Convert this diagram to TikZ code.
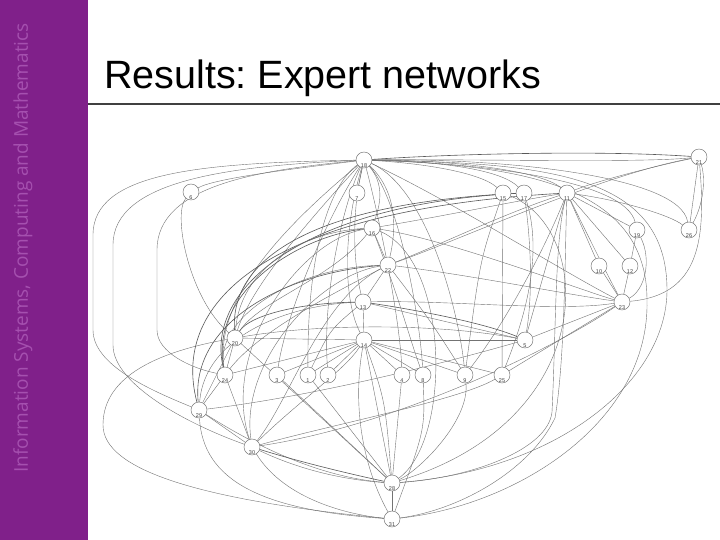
\documentclass[tikz,border=0pt]{standalone}
\usepackage{fontspec}
\setmainfont{Liberation Sans}
\newfontfamily\sidefont{Open Sans}
\frenchspacing
\pgfdeclarelayer{bg}
\pgfsetlayers{bg,main}
\definecolor{sidebar}{RGB}{128,32,138}
\definecolor{sidetext}{RGB}{165,80,175}
\definecolor{edgec}{RGB}{115,115,115}
\definecolor{nodec}{RGB}{105,105,105}
\tikzset{
  nd/.style={circle, draw=nodec, fill=white, minimum size=16pt, inner sep=0pt, line width=0.45pt},
  lbl/.style={anchor=south, inner sep=0.9pt, font=\fontsize{5.5}{5.5}\selectfont, text=black!75},
  e/.style={draw=edgec, line width=0.4pt},
  e2/.style={draw=black!65, line width=0.6pt},
}
\newcommand{\gnode}[3]{\node[nd, label={[lbl]south:#3}] (#1) at #2 {};}
\begin{document}
\begin{tikzpicture}[x=1pt,y=-1pt]
\useasboundingbox (0,0) rectangle (720,540);
% sidebar
\fill[sidebar] (0,0) rectangle (88,540);
\node[rotate=90, text=sidetext, font=\sidefont\fontsize{19}{20}\selectfont, inner sep=0pt] (side) at (23,248) {Information Systems, Computing and Mathematics};
% title
\node[anchor=base west, inner sep=0pt, font=\fontsize{39.5}{40}\selectfont] (title) at (104,89) {Results: Expert networks};
\coordinate (r1) at (88,104);
\coordinate (r2) at (720,104);
\draw[black!75, line width=1.2pt] (r1) -- (r2);
% nodes
\gnode{A}{(364,160)}{18}
\gnode{B}{(191,192)}{6}
\gnode{C}{(357,193)}{7}
\gnode{D}{(503,193)}{15}
\gnode{E}{(524,193)}{17}
\gnode{F}{(567,193)}{11}
\gnode{G}{(699,157)}{21}
\gnode{H}{(637,230)}{19}
\gnode{I}{(689,230)}{26}
\gnode{J}{(599,266)}{10}
\gnode{K}{(630,266)}{12}
\gnode{L}{(622,302)}{23}
\gnode{M}{(372,228)}{16}
\gnode{N}{(388,265)}{22}
\gnode{O}{(363,302)}{13}
\gnode{P}{(364,340)}{14}
\gnode{Q}{(235,338)}{20}
\gnode{X5}{(525,340)}{5}
\gnode{R1}{(225,375)}{24}
\gnode{R2}{(277,375)}{3}
\gnode{R3}{(308,375)}{1}
\gnode{R4}{(328,375)}{2}
\gnode{R5}{(402,375)}{4}
\gnode{R6}{(423,375)}{8}
\gnode{R7}{(465,375)}{9}
\gnode{R8}{(502,375)}{25}
\gnode{S}{(199,410)}{29}
\gnode{T}{(252,447)}{30}
\gnode{U}{(392,483)}{28}
\gnode{V}{(392,519)}{31}
\begin{pgfonlayer}{bg}
\fill[white] (0,0) rectangle (720,540);
% outer left curves
\draw[e] (A) .. controls (200,163) and (93,172) .. (93,235) -- (93,330) .. controls (93,365) and (150,390) .. (S);
\draw[e] (A) .. controls (230,166) and (113,180) .. (113,245) -- (113,345) .. controls (113,385) and (190,425) .. (T);
\draw[e] (A) .. controls (260,170) and (157,185) .. (157,250) -- (157,330) .. controls (157,352) and (190,368) .. (R1);
\draw[e] (B) .. controls (215,178) and (300,168) .. (A);
\draw[e] (B) .. controls (172,215) and (190,300) .. (Q);
\draw[e] (Q) .. controls (140,355) and (103,385) .. (103,425) .. controls (103,470) and (200,500) .. (V);
% bottom left
\draw[e] (S) .. controls (203,480) and (260,510) .. (V);
\draw[e] (S) .. controls (270,455) and (330,478) .. (U);
\draw[e2] (T) .. controls (300,462) and (350,474) .. (U);
\draw[e] (T) .. controls (300,470) and (345,480) .. (U);
\draw[e] (T) .. controls (285,500) and (350,515) .. (V);
\draw[e] (S) -- (T);
\draw[e] (R1) -- (S);
\draw[e] (R1) -- (T);
\draw[e] (Q) -- (S);
\draw[e] (Q) -- (R1);
\draw[e] (Q) -- (U);
\draw[e] (R2) -- (U);
\draw[e] (S) .. controls (300,398) and (420,370) .. (X5);
\draw[e] (T) .. controls (400,425) and (560,345) .. (L);
\draw[e] (T) .. controls (300,400) and (345,370) .. (P);
\draw[e] (R8) .. controls (460,400) and (330,425) .. (T);
\draw[e] (U) -- (V);
% P
\draw[e] (O) -- (P);
\draw[e] (P) -- (U);
\draw[e] (P) .. controls (385,400) .. (U);
\draw[e] (P) .. controls (350,420) and (370,480) .. (V);
\draw[e] (P) -- (R2);
\draw[e] (P) -- (R3);
\draw[e] (P) -- (R4);
\draw[e] (P) -- (R5);
\draw[e] (P) -- (R6);
\draw[e] (P) -- (R7);
\draw[e] (P) -- (R8);
\draw[e] (P) -- (X5);
\draw[e] (Q) -- (P);
\draw[e] (R1) -- (P);
\draw[e] (Q) .. controls (330,322) and (450,325) .. (X5);
% A fan
\draw[e] (A) -- (C);
\draw[e] (A) .. controls (385,185) and (380,205) .. (M);
\draw[e] (A) .. controls (400,195) and (395,235) .. (N);
\draw[e] (A) .. controls (350,220) and (355,270) .. (O);
\draw[e] (A) .. controls (343,230) and (343,300) .. (P);
\draw[e] (A) .. controls (300,230) and (250,290) .. (Q);
\draw[e] (A) .. controls (320,230) and (285,320) .. (R2);
\draw[e] (A) .. controls (330,185) and (307,250) .. (R3);
\draw[e] (A) .. controls (345,200) and (322,290) .. (R4);
\draw[e] (A) .. controls (380,220) and (400,320) .. (R5);
\draw[e] (A) .. controls (400,200) and (420,320) .. (R6);
\draw[e] (A) .. controls (430,190) and (460,320) .. (R7);
\draw[e] (A) .. controls (280,230) and (215,300) .. (R1);
\draw[e] (A) .. controls (420,163) and (480,172) .. (D);
\draw[e] (A) .. controls (430,161) and (500,168) .. (E);
\draw[e] (A) .. controls (450,160) and (540,170) .. (F);
\draw[e2] (A) .. controls (450,154) and (600,150) .. (G);
\draw[e] (A) .. controls (480,159) and (640,163) .. (G);
\draw[e] (A) .. controls (500,158) and (680,175) .. (I);
\draw[e] (A) .. controls (480,163) and (625,180) .. (H);
\draw[e] (A) .. controls (450,200) and (560,270) .. (L);
\draw[e] (A) .. controls (550,163) and (667,175) .. (667,290) .. controls (667,380) and (560,470) .. (U);
\draw[e] (A) .. controls (520,165) and (647,185) .. (647,300) .. controls (650,420) and (520,505) .. (V);
% F fan
\draw[e] (F) .. controls (600,180) and (660,165) .. (G);
\draw[e] (F) -- (H);
\draw[e] (F) .. controls (620,200) and (670,215) .. (I);
\draw[e] (F) -- (J);
\draw[e] (F) -- (K);
\draw[e] (F) .. controls (590,240) and (610,280) .. (L);
\draw[e] (F) -- (X5);
\draw[e] (F) .. controls (555,240) and (556,330) .. (552,412) .. controls (548,450) and (470,478) .. (U);
\draw[e] (F) .. controls (565,250) and (565,360) .. (555,418) .. controls (530,470) and (460,510) .. (V);
\draw[e] (F) .. controls (500,215) and (440,245) .. (N);
\draw[e] (F) .. controls (540,260) and (500,330) .. (R7);
% G, H, J, K, L
\draw[e] (G) -- (I);
\draw[e] (G) .. controls (706,180) and (703,205) .. (I);
\draw[e] (G) .. controls (706,240) and (700,295) .. (L);
\draw[e] (G) .. controls (600,175) and (460,240) .. (N);
\draw[e] (H) -- (K);
\draw[e] (H) .. controls (652,260) and (645,290) .. (L);
\draw[e] (J) -- (L);
\draw[e] (K) -- (L);
\draw[e] (M) .. controls (450,240) and (580,290) .. (L);
\draw[e] (N) .. controls (470,275) and (570,295) .. (L);
\draw[e] (O) .. controls (450,300) and (560,312) .. (L);
\draw[e] (X5) -- (L);
\draw[e] (R8) -- (L);
\draw[e] (D) .. controls (595,230) and (600,420) .. (U);
% D, E down
\draw[e] (D) -- (R8);
\draw[e] (E) .. controls (532,250) and (532,300) .. (X5);
\draw[e] (D) .. controls (480,260) .. (R7);
\draw[e] (E) .. controls (545,260) and (520,330) .. (R8);
% sweeping from lower left
\draw[e2] (R1) .. controls (205,290) and (300,205) .. (E);
\draw[e2] (Q) .. controls (230,255) and (320,203) .. (E);
\draw[e2] (S) .. controls (170,300) and (270,210) .. (F);
\draw[e] (Q) .. controls (240,270) and (300,232) .. (M);
\draw[e2] (R1) .. controls (210,290) and (300,236) .. (M);
\draw[e] (R1) .. controls (215,320) and (290,268) .. (N);
\draw[e2] (S) .. controls (190,320) and (290,272) .. (N);
\draw[e] (S) .. controls (205,335) and (290,305) .. (O);
\draw[e2] (Q) .. controls (250,315) and (300,303) .. (O);
\draw[e] (T) .. controls (220,350) and (300,240) .. (M);
\draw[e] (T) .. controls (240,360) and (320,275) .. (N);
% M, N, O
\draw[e] (M) -- (N);
\draw[e] (N) -- (O);
\draw[e] (M) .. controls (450,215) and (520,200) .. (F);
\draw[e2] (O) .. controls (430,312) and (490,325) .. (X5);
\draw[e] (O) .. controls (430,318) and (490,332) .. (X5);
\draw[e] (M) .. controls (450,260) and (452,440) .. (U);
\draw[e] (N) .. controls (320,300) and (290,400) .. (T);
\draw[e] (M) .. controls (330,280) and (260,300) .. (Q);
\draw[e] (N) .. controls (340,290) and (260,330) .. (R1);
\draw[e] (M) .. controls (400,300) and (410,340) .. (R6);
\draw[e] (N) .. controls (430,320) .. (R7);
\draw[e] (O) .. controls (330,330) .. (R3);
% R row down
\draw[e] (R7) .. controls (470,420) and (420,470) .. (U);
\draw[e] (R5) -- (U);
\draw[e] (R3) -- (U);
\draw[e] (R6) .. controls (425,430) .. (V);
\end{pgfonlayer}
\end{tikzpicture}
\end{document}
